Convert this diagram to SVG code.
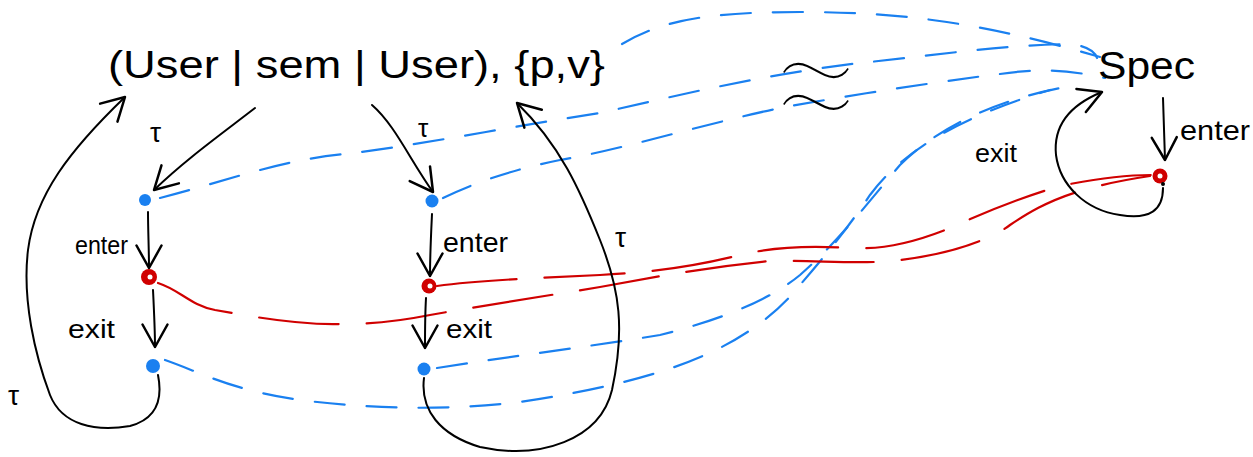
<svg xmlns="http://www.w3.org/2000/svg" width="1253" height="457" viewBox="0 0 1253 457">
<style>
.bg{fill:#ffffff}
.lbl{font-family:"Liberation Sans",Arial,sans-serif;fill:#000}
.arr{fill:none;stroke:#000;stroke-width:2;stroke-linecap:round;stroke-linejoin:round}
.blue{fill:none;stroke:#1a80f0;stroke-width:2.2;stroke-linecap:round;stroke-dasharray:30 22}
.red{fill:none;stroke:#d00000;stroke-width:2.2;stroke-linecap:round;stroke-dasharray:80 28}
.bdot{fill:#1a80f0}
.rdot{fill:#d00000}
.hl{fill:#fff}
</style>
<defs>
<marker id="ah" markerUnits="userSpaceOnUse" markerWidth="30" markerHeight="30" refX="0" refY="0" viewBox="-20 -12 24 24" orient="auto" overflow="visible">
<path d="M-18,-10 L0,0 L-18,10" fill="none" stroke="#000" stroke-width="2" stroke-linecap="round" stroke-linejoin="round"/>
</marker>
</defs>
<rect class="bg" x="0" y="0" width="1253" height="457"/>

<g id="connectors">
<path class="blue" d="M622,44 C660,22 700,12 800,12 C900,12 980,22 1100,57"/>
<path class="blue" d="M160,198 C230,180 280,160 345,154 C420,145 520,125 600,113 C680,95 760,75 860,63 C920,57 1000,45 1070,44 C1088,46 1095,52 1097,58"/>
<path class="blue" d="M443,198 C480,180 520,168 560,160 C620,150 700,125 780,108 C850,95 950,80 1000,74 C1040,68 1070,70 1105,78"/>
<path class="blue" d="M437,368 C520,355 600,345 660,335 C720,320 770,300 800,275 C840,240 870,200 900,165 C940,125 1000,100 1060,88"/>
<path class="blue" d="M165,360 C200,372 230,390 300,400 C380,410 450,410 520,402 C600,390 660,375 705,355 C750,335 780,310 800,285 C830,250 850,225 870,195 C900,155 950,120 1050,90"/>
<path class="red" d="M158,283 C180,290 190,305 215,310 C260,318 300,325 340,324 C380,324 405,320 430,315 C480,306 540,297 600,287 C650,278 700,268 770,261 C820,260 860,265 900,260 C950,254 990,240 1010,225 C1040,205 1070,188 1150,176"/>
<path class="red" d="M437,286 C480,280 540,278 600,275 C660,272 700,265 740,255 C770,248 800,245 850,248 C890,250 920,240 950,228 C990,210 1020,198 1060,186 C1090,180 1120,175 1152,175"/>

<path class="arr" marker-end="url(#ah)" d="M255,108 C220,135 185,160 154,190"/>
<path class="arr" marker-end="url(#ah)" d="M372,105 C395,125 410,160 433,192"/>
<path class="arr" marker-end="url(#ah)" d="M148,212 C148,230 149,250 149,268"/>
<path class="arr" marker-end="url(#ah)" d="M153,290 C154,310 155,330 155,347"/>
<path class="arr" marker-end="url(#ah)" d="M432,214 C431,235 430,255 430,276"/>
<path class="arr" marker-end="url(#ah)" d="M426,298 C425,315 425,330 425,348"/>
<path class="arr" marker-end="url(#ah)" d="M158,375 C162,395 160,418 130,426 C95,432 62,425 50,395 C35,355 22,300 28,250 C35,195 70,150 125,97"/>
<path class="arr" marker-end="url(#ah)" d="M424,378 C420,410 440,435 480,447 C540,460 600,440 612,390 C625,330 620,290 600,240 C580,190 560,145 517,103"/>
<path class="arr" marker-end="url(#ah)" d="M1163,188 C1163,210 1150,220 1120,215 C1085,210 1060,185 1056,155 C1053,125 1070,105 1102,92"/>
<path class="arr" marker-end="url(#ah)" d="M1163,98 L1165,160"/>
</g>

<g id="title"><text class="lbl" x="108" y="78" font-size="38" textLength="497" lengthAdjust="spacingAndGlyphs">(User | sem | User), {p,v}</text></g>
<g id="spec"><text class="lbl" x="1098" y="79" font-size="38" textLength="97" lengthAdjust="spacingAndGlyphs">Spec</text></g>
<g id="approx"><text x="0" y="0" font-family="Lato,'Liberation Sans',sans-serif" font-weight="100" font-size="110" text-anchor="middle" fill="#000" transform="translate(816,159) scale(1.65,1.95)">≈</text></g>

<g id="labels">
<text class="lbl" x="150" y="142" font-size="28">τ</text>
<text class="lbl" x="418" y="137" font-size="26">τ</text>
<text class="lbl" x="615" y="247" font-size="28">τ</text>
<text class="lbl" x="8" y="405" font-size="28">τ</text>
<text class="lbl" x="75" y="254" font-size="26" textLength="53" lengthAdjust="spacingAndGlyphs">enter</text>
<text class="lbl" x="68" y="338" font-size="26" textLength="47" lengthAdjust="spacingAndGlyphs">exit</text>
<text class="lbl" x="443" y="252" font-size="28" textLength="65" lengthAdjust="spacingAndGlyphs">enter</text>
<text class="lbl" x="446" y="338" font-size="26" textLength="46" lengthAdjust="spacingAndGlyphs">exit</text>
<text class="lbl" x="975" y="162" font-size="26" textLength="42" lengthAdjust="spacingAndGlyphs">exit</text>
<text class="lbl" x="1180" y="140" font-size="28" textLength="70" lengthAdjust="spacingAndGlyphs">enter</text>
</g>

<g id="node-a1"><circle class="bdot" cx="145" cy="200" r="6"/></g>
<g id="node-a2"><circle class="rdot" cx="149" cy="277" r="8"/><circle class="hl" cx="150" cy="277" r="2.5"/></g>
<g id="node-a3"><circle class="bdot" cx="153" cy="366" r="7"/></g>
<g id="node-b1"><circle class="bdot" cx="432" cy="201" r="6.5"/></g>
<g id="node-b2"><circle class="rdot" cx="429" cy="286" r="7.5"/><circle class="hl" cx="430" cy="286" r="2.5"/></g>
<g id="node-b3"><circle class="bdot" cx="424" cy="369" r="6.5"/></g>
<g id="node-c"><circle class="rdot" cx="1160" cy="176" r="7.5"/><circle class="hl" cx="1160" cy="176" r="2.5"/><circle fill="#000" cx="1163" cy="184" r="2"/></g>
</svg>
